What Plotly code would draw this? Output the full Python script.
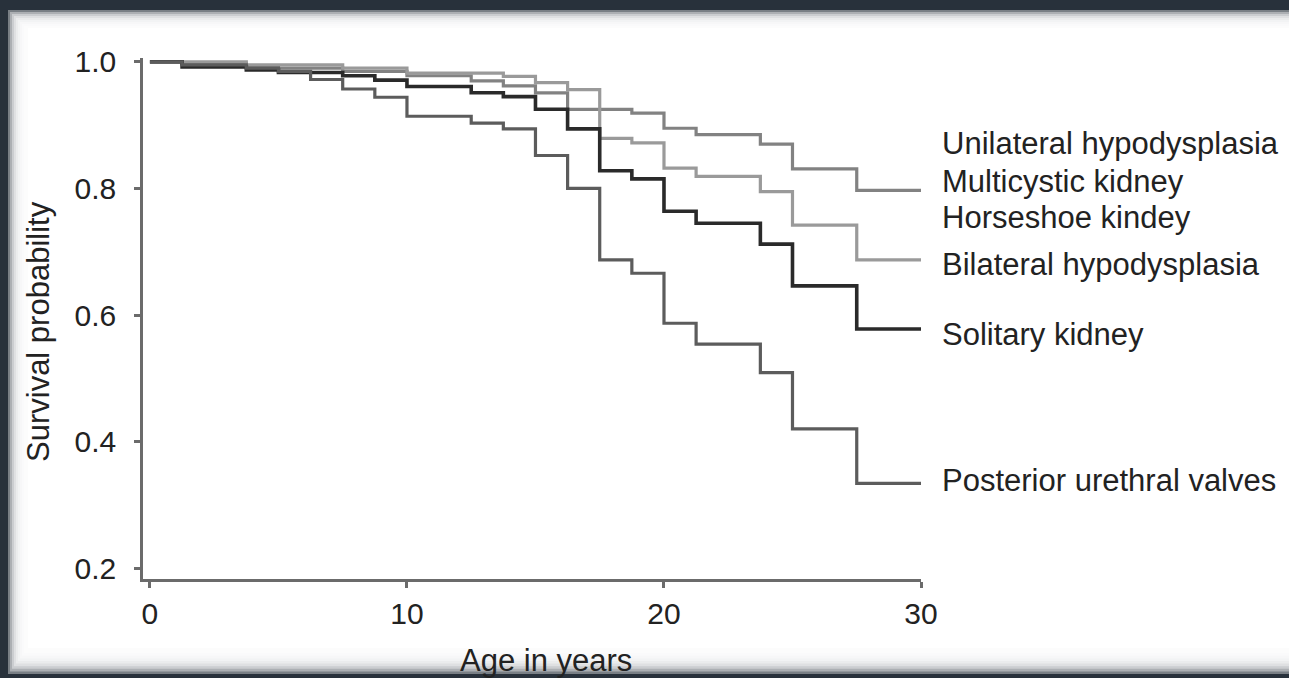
import plotly.graph_objects as go

# ---------------- data ----------------
age_years = [0, 1.25, 2.5, 3.75, 5, 6.25, 7.5, 8.75, 10, 11.25, 12.5, 13.75, 15,
             16.25, 17.5, 18.75, 20, 21.25, 22.5, 23.75, 25, 26.25, 27.5, 28.75, 30]

unilateral_hypodysplasia = [1.0, 0.997, 0.997, 0.993, 0.99, 0.99, 0.985, 0.985, 0.978, 0.978,
                            0.970, 0.962, 0.951, 0.925, 0.925, 0.919, 0.895, 0.885, 0.885,
                            0.870, 0.831, 0.831, 0.797, 0.797, 0.797]
bilateral_hypodysplasia = [1.0, 1.0, 1.0, 0.995, 0.995, 0.995, 0.99, 0.99, 0.982, 0.982,
                           0.982, 0.977, 0.967, 0.956, 0.879, 0.872, 0.832, 0.819, 0.819,
                           0.795, 0.742, 0.742, 0.687, 0.687, 0.687]
solitary_kidney = [1.0, 0.992, 0.992, 0.987, 0.983, 0.983, 0.978, 0.971, 0.961, 0.961,
                   0.951, 0.945, 0.925, 0.894, 0.828, 0.815, 0.764, 0.745, 0.745,
                   0.712, 0.646, 0.646, 0.578, 0.578, 0.578]
posterior_urethral_valves = [1.0, 0.995, 0.995, 0.99, 0.985, 0.972, 0.957, 0.944, 0.914, 0.914,
                             0.903, 0.894, 0.852, 0.800, 0.687, 0.666, 0.587, 0.554, 0.554,
                             0.509, 0.420, 0.420, 0.334, 0.334, 0.334]

y_tick_values = [0.2, 0.4, 0.6, 0.8, 1.0]
y_tick_labels = ["0.2", "0.4", "0.6", "0.8", "1.0"]
x_tick_values = [0, 10, 20, 30]
x_tick_labels = ["0", "10", "20", "30"]

curve_labels = ["Unilateral hypodysplasia", "Multicystic kidney", "Horseshoe kindey",
                "Bilateral hypodysplasia", "Solitary kidney", "Posterior urethral valves"]

# ---------------- layout constants ----------------
W, H = 1289, 678
L, R, T, B = 143, 921, 58, 579
FONT = "Liberation Sans, Arial, Helvetica, sans-serif"
TXT = "#222222"
AX = "#6b6b6b"


def xp(px):
    return (px - L) / (R - L)


def yp(py):
    return (B - py) / (B - T)


fig = go.Figure()

series = [
    ("Unilateral hypodysplasia", unilateral_hypodysplasia, "#828282", 3.2),
    ("Bilateral hypodysplasia", bilateral_hypodysplasia, "#9a9a9a", 3.2),
    ("Solitary kidney", solitary_kidney, "#2a2a2a", 3.6),
    ("Posterior urethral valves", posterior_urethral_valves, "#5c5c5c", 3.2),
]
for name, vals, col, w in series:
    fig.add_trace(go.Scatter(x=age_years, y=vals, mode="lines", name=name,
                             line=dict(shape="hv", color=col, width=w)))

# frame: dark background with soft-edged white card
shapes = []
steps = 9
for i in range(steps):
    inset = 8 + 2 * i
    shapes.append(dict(type="rect", xref="paper", yref="paper", layer="below",
                       x0=xp(inset), x1=xp(W + 20),
                       y0=yp(inset + 2), y1=yp(H - 4 - 2.6 * i),
                       fillcolor="white", opacity=0.38, line=dict(width=0)))
shapes.append(dict(type="rect", xref="paper", yref="paper", layer="below",
                   x0=xp(28), x1=xp(W + 20), y0=yp(28), y1=yp(H - 30),
                   fillcolor="white", opacity=1, line=dict(width=0)))

label_y_px = [143, 182, 217, 264, 334, 480]
annotations = []
for txt, py in zip(curve_labels, label_y_px):
    annotations.append(dict(text=txt, xref="paper", yref="paper", x=xp(940), y=yp(py),
                            xanchor="left", yanchor="middle", showarrow=False,
                            font=dict(family=FONT, size=31, color=TXT)))
annotations.append(dict(text="Age in years", xref="paper", yref="paper", x=xp(546), y=yp(660),
                        xanchor="center", yanchor="middle", showarrow=False,
                        font=dict(family=FONT, size=31, color=TXT)))
annotations.append(dict(text="Survival probability", xref="paper", yref="paper", x=xp(39), y=yp(332),
                        xanchor="center", yanchor="middle", showarrow=False, textangle=-90,
                        font=dict(family=FONT, size=31, color=TXT)))

fig.update_layout(
    width=W, height=H, autosize=False,
    margin=dict(l=L, r=W - R, t=T, b=H - B, pad=0),
    paper_bgcolor="#28313b", plot_bgcolor="rgba(0,0,0,0)",
    showlegend=False, shapes=shapes, annotations=annotations,
    font=dict(family=FONT, color=TXT),
)
fig.update_xaxes(range=[-0.27, 30], tickvals=x_tick_values, ticktext=x_tick_labels,
                 showgrid=False, zeroline=False, showline=True, linecolor=AX, linewidth=2.5,
                 ticks="outside", ticklen=6, tickwidth=2.5, tickcolor=AX,
                 tickfont=dict(family=FONT, size=30, color=TXT), ticklabelstandoff=0)
fig.update_yaxes(range=[0.183, 1.006], tickvals=y_tick_values, ticktext=y_tick_labels,
                 showgrid=False, zeroline=False, showline=True, linecolor=AX, linewidth=2.5,
                 ticks="outside", ticklen=6, tickwidth=2.5, tickcolor=AX,
                 tickfont=dict(family=FONT, size=30, color=TXT), ticklabelstandoff=12)

fig.write_html("out.html")
